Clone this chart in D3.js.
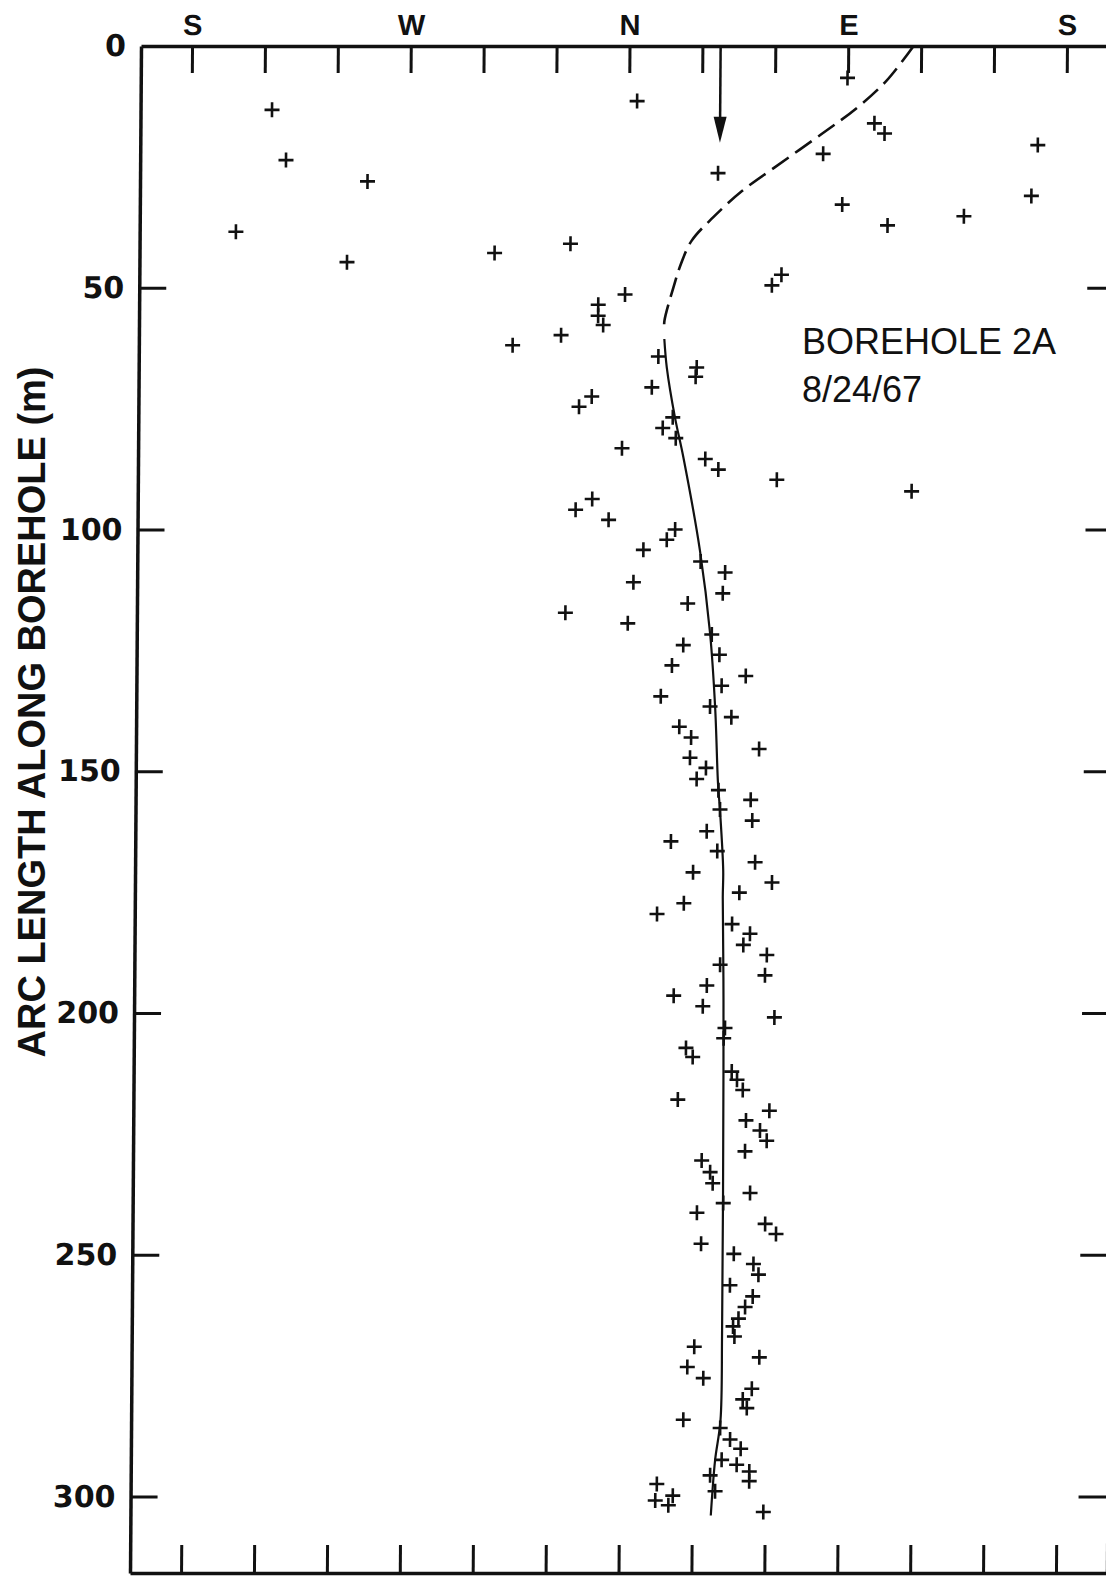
<!DOCTYPE html>
<html>
<head>
<meta charset="utf-8">
<script src="https://cdn.jsdelivr.net/npm/d3@7"></script>
<style>
  body { margin: 0; background: #fff; }
  svg text { font-family: "Liberation Sans", Arial, sans-serif; fill: #111; }
</style>
</head>
<body>
<div id="chart"></div>
<script>
// azimuth in degrees from north (east positive, west negative), depth = arc length in m
const pointDepth = [13.2, 23.6, 28.0, 38.4, 44.7, 42.8, 40.9, 11.4, 26.3, 6.6,
  16.0, 18.1, 22.3, 20.5, 31.0, 32.8, 37.1, 35.2, 47.3, 49.5,
  51.4, 53.5, 55.8, 57.7, 59.8, 64.2, 66.5, 68.4, 70.6, 72.5,
  74.6, 76.8, 79.0, 81.1, 83.2, 85.4, 87.6, 89.7, 92.1, 93.7,
  95.9, 98.0, 100.0, 102.1, 104.2, 106.6, 108.9, 110.9, 113.2, 115.3,
  117.2, 119.4, 121.7, 123.9, 125.9, 128.1, 130.3, 132.3, 134.5, 136.6,
  138.8, 140.8, 143.0, 145.4, 147.2, 149.3, 151.6, 153.9, 155.9, 157.9,
  160.2, 162.4, 164.5, 166.5, 168.8, 170.9, 173.0, 175.1, 177.3, 179.5,
  181.6, 183.6, 185.9, 188.0, 190.0, 192.2, 194.3, 196.4, 198.6, 200.9,
  203.1, 205.2, 207.2, 209.1, 212.1, 213.8, 215.9, 217.9, 220.2, 222.2,
  224.3, 226.4, 228.6, 230.5, 232.9, 235.2, 237.2, 239.3, 241.3, 243.6,
  245.7, 247.7, 249.8, 251.9, 254.1, 256.3, 258.6, 260.8, 263.2, 264.8,
  266.9, 269.0, 271.2, 273.2, 275.5, 277.7, 279.9, 281.7, 284.1, 285.8,
  288.2, 290.1, 292.4, 293.4, 294.8, 296.8, 295.6, 298.9, 297.4, 300.8,
  299.8, 301.8, 303.2, 61.9];
const pointAzimuth = [-146.9, -141.0, -107.4, -161.4, -115.6, -54.9, -23.7, 3.3, 36.8, 89.8,
  101.0, 105.2, 80.0, 168.3, 165.8, 88.0, 106.7, 138.1, 63.2, 59.3,
  -1.1, -12.1, -12.1, -10.0, -27.3, 12.8, 28.6, 28.2, 10.2, -14.5,
  -19.7, 18.9, 14.8, 20.2, -1.9, 32.4, 37.8, 61.9, 117.4, -14.0,
  -20.8, -7.2, 20.2, 16.8, 7.2, 30.8, 40.9, 3.2, 40.0, 25.6,
  -24.7, 1.0, 35.6, 23.9, 38.8, 19.3, 49.7, 39.8, 14.8, 35.1,
  43.9, 22.5, 27.4, 55.4, 27.0, 33.6, 29.8, 38.8, 52.1, 39.5,
  52.8, 34.1, 19.4, 38.5, 54.1, 28.6, 61.1, 47.7, 24.9, 13.9,
  44.8, 52.2, 49.5, 59.2, 40.0, 58.5, 34.6, 21.0, 33.0, 62.5,
  42.2, 41.7, 26.2, 29.0, 45.1, 47.3, 49.7, 23.0, 60.7, 51.1,
  56.9, 59.7, 50.8, 33.0, 36.5, 37.6, 53.0, 42.0, 31.2, 59.3,
  63.8, 33.0, 46.5, 54.6, 56.7, 45.0, 54.4, 51.3, 48.6, 46.4,
  47.0, 30.5, 57.3, 27.7, 34.3, 54.3, 50.6, 52.3, 26.2, 41.4,
  45.5, 49.9, 42.1, 48.3, 53.5, 53.5, 37.4, 39.5, 15.5, 14.9,
  22.1, 20.3, 59.4, -47.2];

// hand-drawn trend of the hole: dashed near the surface, solid below
const dashedDepth = [0, 7.2, 12.7, 18.2, 25.1, 30.0, 35.4, 40.3, 45.1, 49.9, 56.8, 58.5];
const dashedAzimuth = [116.9, 105.8, 94.0, 79.3, 60.1, 46.7, 35.0, 26.1, 21.8, 18.8, 15.2, 15.1];
const solidDepth = [60.6, 66.5, 76.8, 85.1, 104.4, 121.5, 136.8, 152.5, 158.1, 170.5,
  176.1, 192.6, 211.9, 265.7, 284.3, 292.5, 303.9];
const solidAzimuth = [15.2, 16.3, 19.8, 23.4, 30.5, 34.9, 37.2, 38.6, 39.5, 41.0,
  40.9, 41.4, 41.7, 41.9, 41.5, 39.4, 37.8];

const arrowAzimuth = 37.5;
const arrowDepth = 20;

const azimuthTicks = [-180, -150, -120, -90, -60, -30, 0, 30, 60, 90, 120, 150, 180];
const compassNames = ['S', 'W', 'N', 'E', 'S'];
const compassAt = [-180, -90, 0, 90, 180];
const depthTicks = [0, 50, 100, 150, 200, 250, 300];

const title = 'ARC LENGTH ALONG BOREHOLE (m)';
const noteLines = ['BOREHOLE 2A', '8/24/67'];

const W = 1106, H = 1579;
const plot = {left: 141, right: 1118, top: 46, bottom: 1573};
const skew = -0.0072; // the scanned page leans a little

const svg = d3.select('#chart').append('svg')
    .attr('width', W)
    .attr('height', H);

svg.append('rect').attr('width', W).attr('height', H).attr('fill', '#fff');

const x = d3.scaleLinear().domain([-201, 201]).range([plot.left, plot.right]);
const y = d3.scaleLinear().domain([0, 315.8]).range([plot.top, plot.bottom]);

const g = svg.append('g')
    .attr('transform', `translate(${-skew * plot.top},0) skewX(${Math.atan(skew) * 180 / Math.PI})`);

// axes
const styleAxis = sel => {
  sel.select('.domain').attr('stroke', '#111').attr('stroke-width', 3.5);
  sel.selectAll('.tick line').attr('stroke', '#111').attr('stroke-width', 3);
};

const topAxis = g.append('g')
    .attr('transform', `translate(0,${plot.top})`)
    .call(d3.axisTop(x).tickValues(azimuthTicks).tickSizeInner(-27).tickSizeOuter(0).tickFormat(''));
styleAxis(topAxis);

g.append('g')
    .attr('transform', `translate(0,${plot.top})`)
    .call(d3.axisTop(x).tickValues(compassAt).tickSize(0).tickPadding(11)
      .tickFormat((d, i) => compassNames[i]))
    .call(a => a.select('.domain').remove())
    .selectAll('text')
    .style('font-size', '29px')
    .style('font-weight', 'bold');

const bottomAxis = g.append('g')
    .attr('transform', `translate(0,${plot.bottom})`)
    .call(d3.axisBottom(x).tickValues(azimuthTicks).tickSizeInner(-28).tickSizeOuter(0).tickFormat(''));
styleAxis(bottomAxis);

const leftAxis = g.append('g')
    .attr('transform', `translate(${plot.left},0)`)
    .call(d3.axisLeft(y).tickValues(depthTicks).tickSizeInner(-27).tickSizeOuter(0).tickPadding(15));
styleAxis(leftAxis);
leftAxis.selectAll('.tick').filter(d => d === 0).select('line').remove();
leftAxis.selectAll('text')
    .style('font-family', '"DejaVu Sans", sans-serif')
    .style('font-size', '30px')
    .style('font-weight', 'bold');

const rightAxis = g.append('g')
    .attr('transform', `translate(${plot.right},0)`)
    .call(d3.axisRight(y).tickValues(depthTicks).tickSizeInner(-29).tickSizeOuter(0).tickFormat(''));
styleAxis(rightAxis);
rightAxis.selectAll('.tick').filter(d => d === 0).select('line').remove();

// trend line
const line = d3.line()
    .x(d => x(d[1]))
    .y(d => y(d[0]))
    .curve(d3.curveCatmullRom);

g.append('path')
    .datum(dashedDepth.map((d, i) => [d, dashedAzimuth[i]]))
    .attr('d', line)
    .attr('fill', 'none')
    .attr('stroke', '#111')
    .attr('stroke-width', 2.6)
    .attr('stroke-dasharray', '20 8');

g.append('path')
    .datum(solidDepth.map((d, i) => [d, solidAzimuth[i]]))
    .attr('d', line)
    .attr('fill', 'none')
    .attr('stroke', '#111')
    .attr('stroke-width', 2.2);

// arrow marking the collar azimuth
const ax = x(arrowAzimuth), ay = y(arrowDepth);
g.append('line')
    .attr('x1', ax).attr('x2', ax)
    .attr('y1', y(0)).attr('y2', ay - 20)
    .attr('stroke', '#111')
    .attr('stroke-width', 2.5);
g.append('path')
    .attr('d', `M${ax},${ay}L${ax - 6.5},${ay - 26}L${ax + 6.5},${ay - 26}Z`)
    .attr('fill', '#111');

// measured points
g.append('g')
    .selectAll('path')
    .data(pointDepth.map((d, i) => [d, pointAzimuth[i]]))
  .join('path')
    .attr('transform', d => `translate(${x(d[1])},${y(d[0])})`)
    .attr('d', 'M-7.5,0H7.5M0,-7.5V7.5')
    .attr('stroke', '#111')
    .attr('stroke-width', 2.6)
    .attr('fill', 'none');

// y title
svg.append('text')
    .attr('transform', 'translate(45,712) rotate(-90)')
    .attr('text-anchor', 'middle')
    .style('font-size', '38px')
    .style('font-weight', 'bold')
    .text(title);

// note
svg.append('g')
    .selectAll('text')
    .data(noteLines)
  .join('text')
    .attr('x', 802)
    .attr('y', (d, i) => 354 + i * 48)
    .style('font-size', '36px')
    .text(d => d);
</script>
</body>
</html>
